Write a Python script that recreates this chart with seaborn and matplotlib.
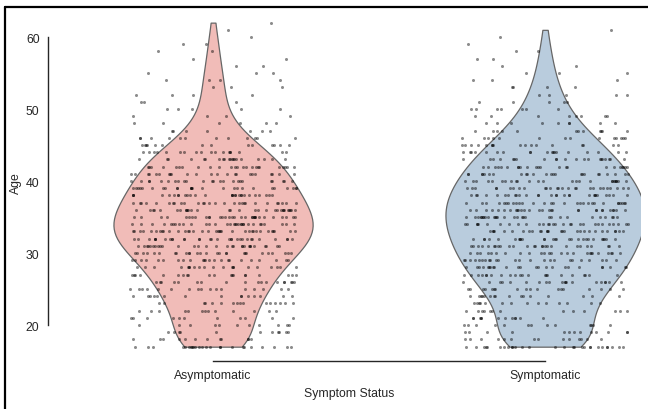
import numpy as np
import pandas as pd
import matplotlib
matplotlib.use('Agg')
import matplotlib.pyplot as plt
import seaborn as sns
from matplotlib.lines import Line2D


groups = ['Asymptomatic', 'Symptomatic']
ages = list(range(17, 63))

# number of people at each age (17..62)
asym_counts = [24, 12, 11, 11, 11, 13, 16, 15, 17, 18,
               20, 21, 23, 27, 29, 31, 35, 31, 32, 30,
               28, 28, 26, 24, 23, 24, 20, 18, 14, 12,
               7, 6, 4, 5, 3, 4, 3, 4, 3, 2,
               2, 2, 2, 1, 1, 1]
sym_counts = [28, 14, 13, 13, 12, 13, 14, 16, 18, 20,
              22, 24, 24, 25, 27, 27, 28, 29, 29, 29,
              29, 28, 27, 25, 24, 23, 21, 19, 17, 14,
              12, 9, 8, 7, 5, 5, 4, 3, 3, 2,
              2, 2, 1, 1, 1, 0]

df = pd.DataFrame({
    'Symptom Status': np.repeat(groups, [sum(asym_counts), sum(sym_counts)]),
    'Age': np.concatenate([np.repeat(ages, asym_counts), np.repeat(ages, sym_counts)]),
})

sns.set_theme(style='white', context='paper')
plt.rcParams['font.family'] = ['Liberation Sans', 'DejaVu Sans']

fig = plt.figure(figsize=(6.48, 4.10), dpi=100)
ax = fig.add_axes([58 / 648, 58 / 410, 582 / 648, 337 / 410])

sns.violinplot(data=df, x='Symptom Status', y='Age', hue='Symptom Status',
               order=groups, hue_order=groups, palette='Pastel1',
               cut=0, inner=None, density_norm='width', width=0.6,
               linewidth=0.9, linecolor='#666666', legend=False, ax=ax)
sns.stripplot(data=df, x='Symptom Status', y='Age', order=groups,
              color='black', size=2.2, alpha=0.45, jitter=0.25, ax=ax)

ax.set_xlim(-0.467, 1.286)
ax.set_ylim(16.4, 63.2)
ax.set_yticks([20, 30, 40, 50, 60])
ax.tick_params(axis='y', pad=1.5)
ax.tick_params(axis='x', pad=1.5)
ax.set_xlabel('Symptom Status', fontsize=8.8, labelpad=4)
ax.set_ylabel('Age', fontsize=8.8)
sns.despine(ax=ax, offset=7, trim=True)
ax.yaxis.set_label_coords(-0.062, 0.5)

# frame of the original screenshot (left and top edges only)
fig.add_artist(Line2D([5 / 648, 5 / 648], [-0.1, 1 - 8 / 410], color='black',
                      linewidth=1.6, transform=fig.transFigure))
fig.add_artist(Line2D([5 / 648, 1.1], [1 - 8 / 410, 1 - 8 / 410], color='black',
                      linewidth=1.6, transform=fig.transFigure))

fig.savefig('out.png', dpi=100)
